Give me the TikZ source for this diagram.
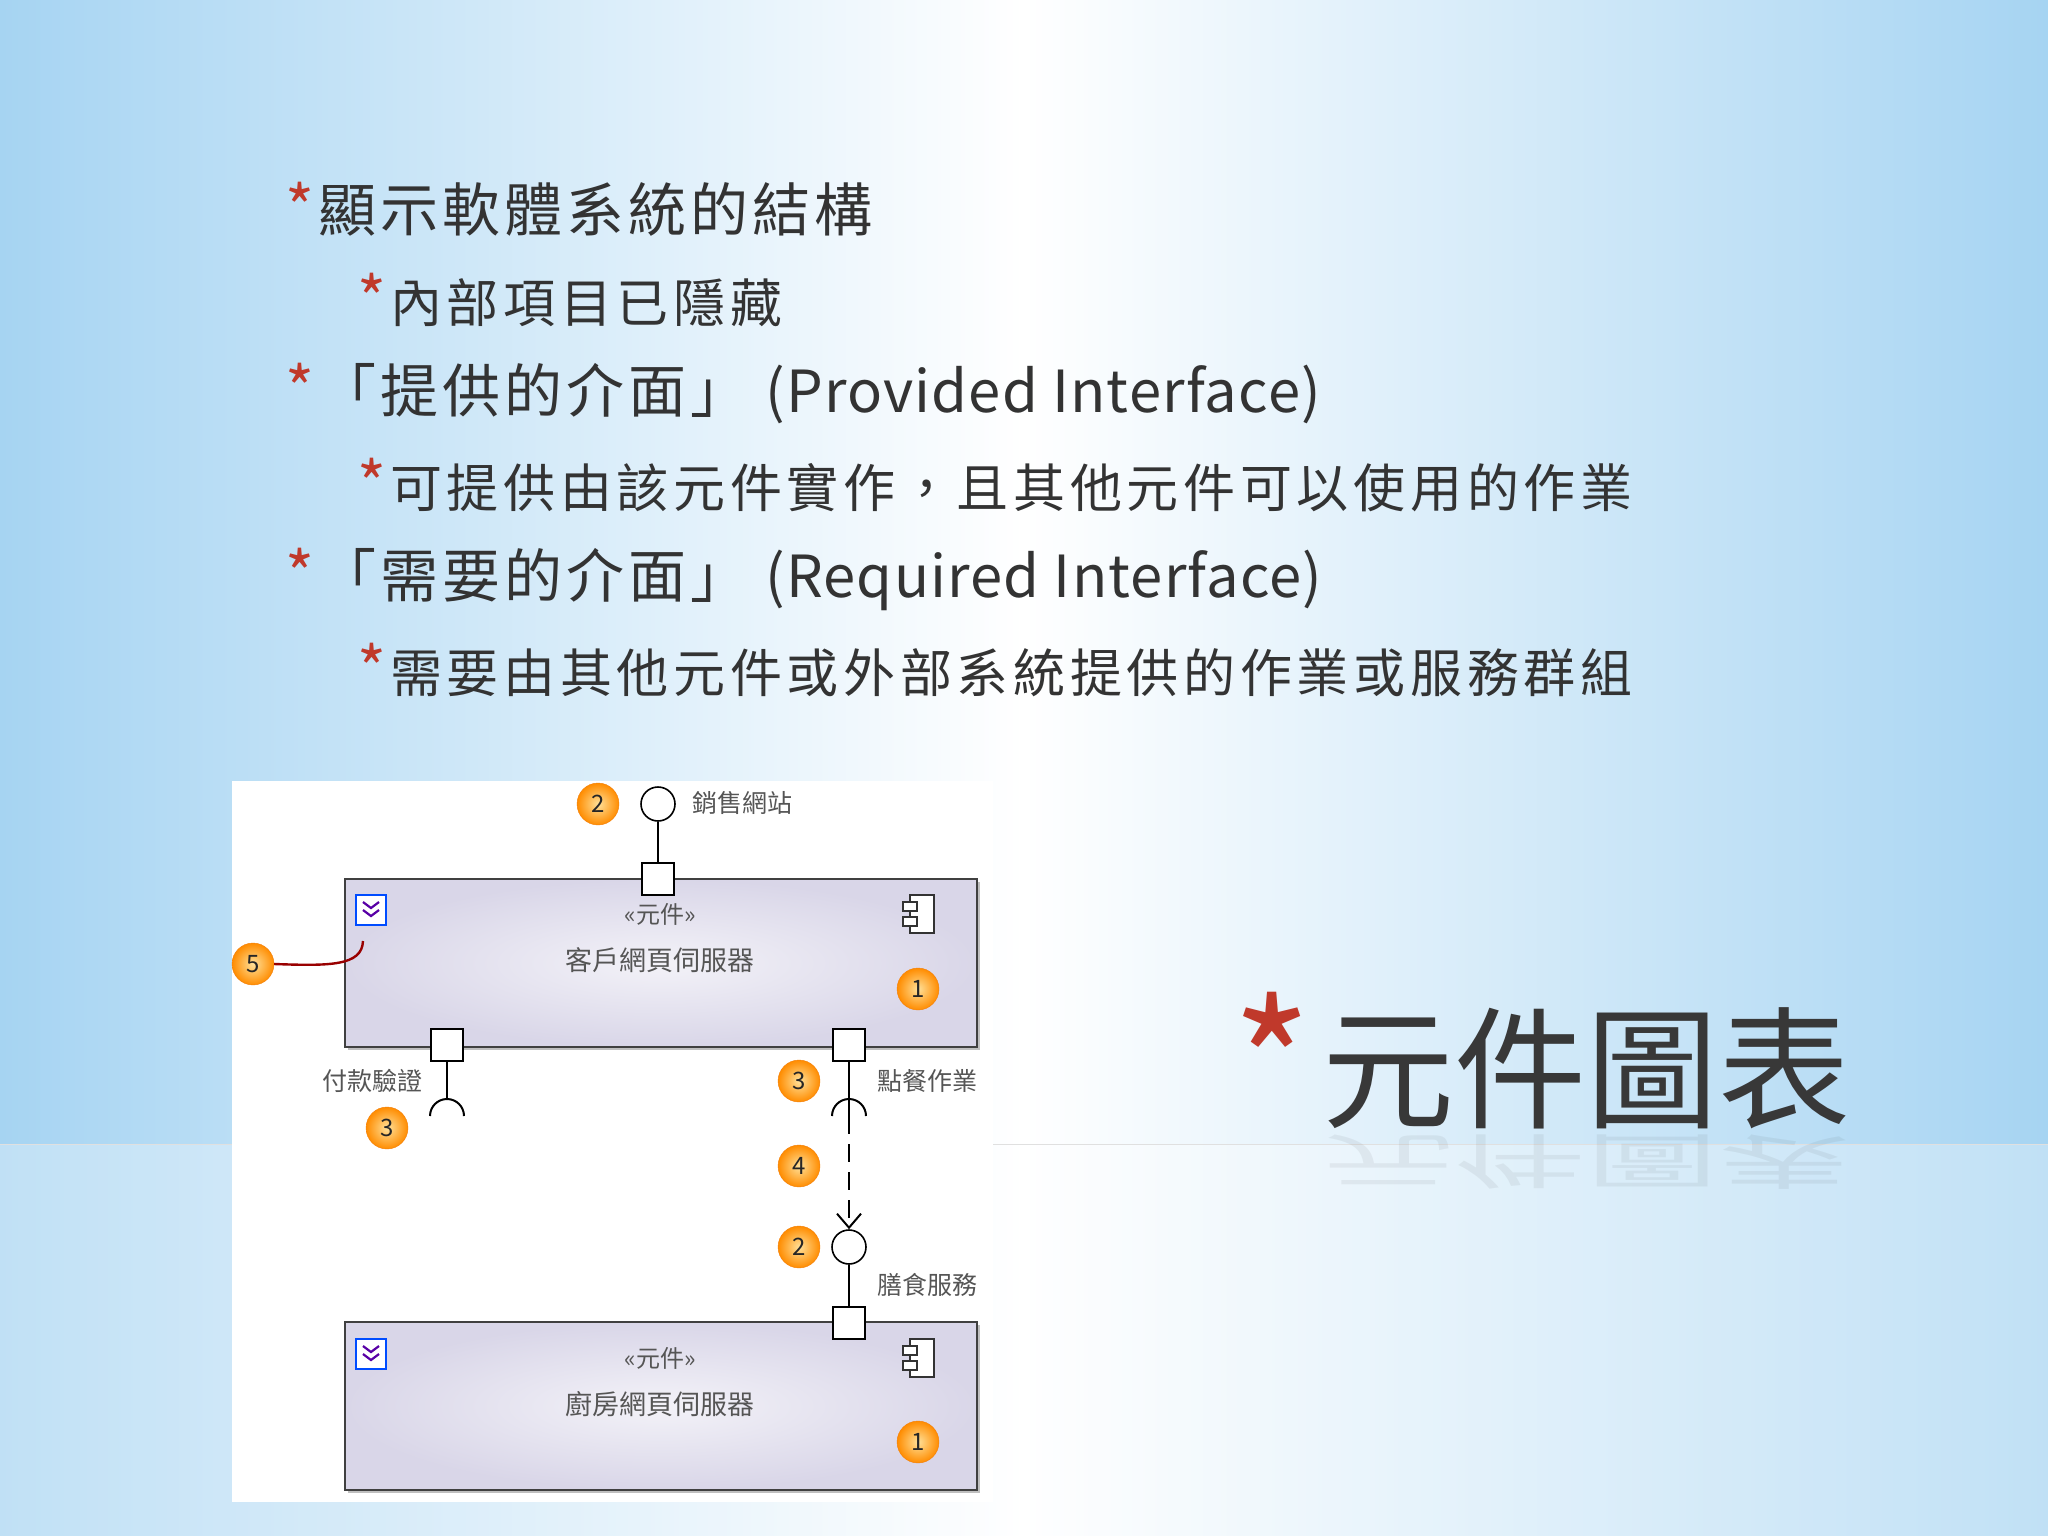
\documentclass[tikz,border=0pt]{standalone}
\usepackage{fontspec}
\setmainfont{Noto Sans CJK TC}
\usetikzlibrary{arrows.meta,shapes.geometric,shadows}
\definecolor{txt}{HTML}{333333}
\definecolor{ast}{HTML}{C0392B}
\definecolor{lbl}{HTML}{555555}
\definecolor{boxin}{HTML}{F3F2F8}
\definecolor{boxout}{HTML}{D9D6E8}
\definecolor{edge}{HTML}{A6D4F2}
\newcommand{\myast}{\textcolor{ast}{\fontsize{62}{62}\selectfont *}\hspace{4pt}}
\newcommand{\lat}[1]{{\addfontfeature{LetterSpace=2}#1}}
\tikzset{
 lvone/.style={anchor=west,text=txt,font=\fontsize{58}{60}\selectfont\addfontfeature{LetterSpace=7},inner sep=0},
 lvtwo/.style={anchor=west,text=txt,font=\fontsize{52}{54}\selectfont\addfontfeature{LetterSpace=9},inner sep=0},
 badge/.style={circle,minimum size=42pt,inner sep=0,draw=orange!80!brown,inner color=yellow!40!orange!40,outer color=orange!90!yellow,font=\fontsize{24}{24}\selectfont,text=black!85},
 comp/.style={draw=black!75,line width=2pt,inner color=boxin,outer color=boxout,drop shadow},
 port/.style={draw=black,fill=white,line width=1.6pt,minimum size=32pt,inner sep=0},
 lolly/.style={draw=black,fill=white,line width=1.6pt,circle,minimum size=34pt,inner sep=0},
 dlbl/.style={text=lbl,font=\fontsize{25}{25}\selectfont,inner sep=0},
 wire/.style={draw=black,line width=2pt}
}
\begin{document}
\begin{tikzpicture}[x=1pt,y=-1pt]
\useasboundingbox (0,0) rectangle (2048,1536);
% background
\shade[left color=edge, right color=edge, middle color=white] (0,0) rectangle (2048,1536);
\fill[white,opacity=0.3] (0,1144) rectangle (2048,1536);
\draw[black!12,line width=1pt] (0,1144) -- (2048,1144);
% bullet text
\node[lvone] (l1) at (285,209) {\myast 顯示軟體系統的結構};
\node[lvtwo] (l2) at (357,300) {\myast 內部項目已隱藏};
\node[lvone] (l3) at (285,394) {\myast 「提供的介面」 \lat{(Provided Interface)}};
\node[lvtwo] (l4) at (357,485) {\myast 可提供由該元件實作，且其他元件可以使用的作業};
\node[lvone] (l5) at (285,579) {\myast 「需要的介面」 \lat{(Required Interface)}};
\node[lvtwo] (l6) at (357,670) {\myast 需要由其他元件或外部系統提供的作業或服務群組};
% title
\node[anchor=west,inner sep=0,text=ast,font=\fontsize{170}{170}\selectfont] (tast) at (1232,1060) {*};
\node[anchor=west,inner sep=0,text=black!78,font=\fontsize{132}{132}\selectfont] (title) at (1322,1068) {元件圖表};
\node[anchor=west,inner sep=0,text=black!78,opacity=0.07,yscale=-0.45,font=\fontsize{132}{132}\selectfont] (titler) at (1322,1162) {元件圖表};
% diagram panel
\fill[white] (232,781) rectangle (993,1502);
\node[comp,minimum width=632pt,minimum height=168pt] (c1) at (661,963) {};
\node[comp,minimum width=632pt,minimum height=168pt] (c2) at (661,1406) {};
\node[text=lbl,font=\fontsize{24}{24}\selectfont] (s1) at (660,914) {«元件»};
\node[text=lbl,font=\fontsize{27}{27}\selectfont] (n1) at (660,960) {客戶網頁伺服器};
\node[text=lbl,font=\fontsize{24}{24}\selectfont] (s2) at (660,1358) {«元件»};
\node[text=lbl,font=\fontsize{27}{27}\selectfont] (n2) at (660,1404) {廚房網頁伺服器};
% expand icons
\foreach \nm/\yy in {e1/910,e2/1354}{
 \node[draw=blue!70!cyan,fill=white,line width=1.8pt,minimum size=30pt,inner sep=0] (\nm) at (371,\yy) {};
 \draw[violet!70!blue,line width=2.2pt] (363,\yy-8) -- (371,\yy-2) -- (379,\yy-8) (363,\yy) -- (371,\yy+6) -- (379,\yy);
}
% component icons
\foreach \nm/\yy in {k1/914,k2/1358}{
 \node[draw=black!80,fill=white,line width=1.8pt,minimum width=24pt,minimum height=38pt,inner sep=0] (\nm) at (922,\yy) {};
 \draw[black!80,fill=white,line width=1.8pt] (903,\yy-12) rectangle (917,\yy-3) (903,\yy+3) rectangle (917,\yy+12);
}
% ports
\node[port] (pt) at (658,879) {};
\node[lolly] (lt) at (658,804) {};
\draw[wire] (lt) -- (pt);
\node[port] (pl) at (447,1045) {};
\coordinate (sl) at (447,1099);
\draw[wire] (pl) -- (sl);
\draw[wire] (430,1116) arc[start angle=180,end angle=360,radius=17];
\node[port] (pr) at (849,1045) {};
\coordinate (sr) at (849,1116);
\draw[wire] (pr) -- (sr);
\draw[wire] (832,1116) arc[start angle=180,end angle=360,radius=17];
\node[lolly] (lb) at (849,1247) {};
\node[port] (pb) at (849,1323) {};
\draw[wire] (lb) -- (pb);
\draw[wire,dash pattern=on 18pt off 10pt,-{Straight Barb[length=14pt,width=24pt,line width=2pt]}] (sr) -- (lb.north);
% labels
\node[dlbl,anchor=west] (t1) at (692,803) {銷售網站};
\node[dlbl] (t2) at (372,1081) {付款驗證};
\node[dlbl,anchor=west] (t3) at (877,1081) {點餐作業};
\node[dlbl,anchor=west] (t4) at (877,1285) {膳食服務};
% badges
\node[badge] (b2a) at (598,804) {2};
\node[badge] (b1a) at (918,989) {1};
\node[badge] (b5) at (253,964) {5};
\node[badge] (b3a) at (387,1128) {3};
\node[badge] (b3b) at (799,1081) {3};
\node[badge] (b4) at (799,1166) {4};
\node[badge] (b2b) at (799,1247) {2};
\node[badge] (b1b) at (918,1442) {1};
\coordinate (rl) at (363,941);
\draw[red!60!black,line width=2.4pt] (b5.east) .. controls (330,966) and (362,966) .. (rl);
\end{tikzpicture}
\end{document}
